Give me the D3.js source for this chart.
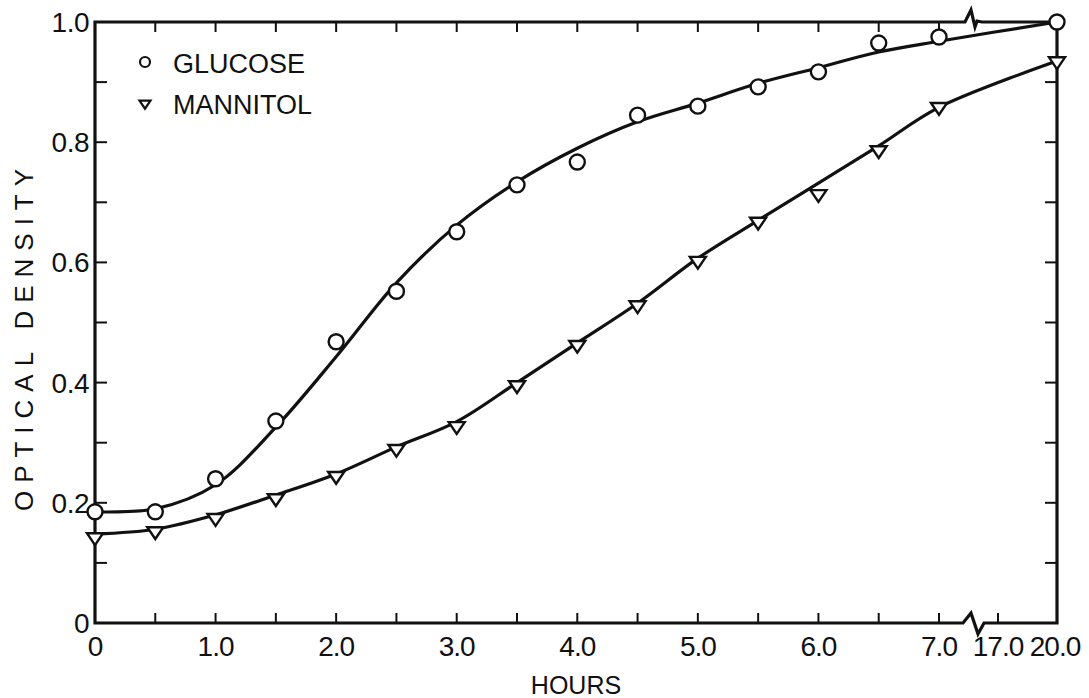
<!DOCTYPE html>
<html><head><meta charset="utf-8">
<script src="https://cdn.jsdelivr.net/npm/d3@7"></script>
<style>body{margin:0;background:#fff}svg{display:block}</style>
</head><body>
<svg id="c" width="1089" height="698"></svg>
<script>
// ---- data ----
const hours     = [0,0.5,1.0,1.5,2.0,2.5,3.0,3.5,4.0,4.5,5.0,5.5,6.0,6.5,7.0,20.0];
const glucose   = [0.185,0.185,0.24,0.336,0.468,0.552,0.651,0.729,0.767,0.845,0.860,0.892,0.917,0.965,0.975,1.0];
const mannitol  = [0.141,0.151,0.173,0.206,0.243,0.288,0.326,0.394,0.461,0.527,0.601,0.666,0.712,0.785,0.857,0.933];
// smooth fitted curves drawn through the points
const glucoseFit  = [0.185,0.19,0.23,0.326,0.443,0.566,0.662,0.734,0.79,0.834,0.865,0.898,0.924,0.95,0.968,1.0];
const mannitolFit = [0.148,0.156,0.18,0.213,0.248,0.293,0.335,0.4,0.466,0.532,0.607,0.67,0.732,0.794,0.858,0.935];
const xTickValues = [0.5,1.0,1.5,2.0,2.5,3.0,3.5,4.0,4.5,5.0,5.5,6.0,6.5,7.0,17.0];
const xLabelValues = [0,1,2,3,4,5,6,7,17,20];
const xLabels = ["0","1.0","2.0","3.0","4.0","5.0","6.0","7.0","17.0","20.0"];
const yTickValues = [0.1,0.2,0.3,0.4,0.5,0.6,0.7,0.8,0.9];
const yLabelValues = [0,0.2,0.4,0.6,0.8,1.0];
const yLabels = ["0","0.2","0.4","0.6","0.8","1.0"];
const seriesNames = ["GLUCOSE","MANNITOL"];

// ---- layout ----
const L=95, R=1057, T=22, B=623, breakX=973;
const ink="#111";
const font="'Liberation Sans', Arial, sans-serif";
const svg=d3.select("#c");
svg.append("rect").attr("width",1089).attr("height",698).attr("fill","#fff");

const x=d3.scaleLinear().domain([0,7,17,20]).range([L,939,998,R]);
const y=d3.scaleLinear().domain([0,1]).range([B,T]);

// curves
const line=d3.line().x(d=>x(d[0])).y(d=>y(d[1])).curve(d3.curveCatmullRom.alpha(0.5));
[glucoseFit,mannitolFit].forEach(arr=>{
  svg.append("path").attr("d",line(hours.map((h,i)=>[h,arr[i]])))
    .attr("fill","none").attr("stroke",ink).attr("stroke-width",3.2);
});

// frame with breaks
const g=svg.append("g").attr("stroke",ink).attr("fill","none").attr("stroke-width",3.2).attr("stroke-linejoin","miter");
g.append("path").attr("d",`M${L},${T} L${L},${B} L${breakX-10},${B} L${breakX-2},${B-10} L${breakX+5},${B+11} L${breakX+11},${B} L${R},${B} L${R},${T} L${breakX+9},${T} L${breakX+4},${T-1} L${breakX+2},${T+5} L${breakX-2},${T-12} L${breakX-8},${T} Z`);

// ticks
const tg=svg.append("g").attr("stroke",ink).attr("stroke-width",2);
xTickValues.forEach(v=>{
  tg.append("line").attr("x1",x(v)).attr("x2",x(v)).attr("y1",B).attr("y2",B-10);
  if(v<=7) tg.append("line").attr("x1",x(v)).attr("x2",x(v)).attr("y1",T).attr("y2",T+10);
});
yTickValues.forEach(v=>{
  tg.append("line").attr("x1",L).attr("x2",L+12).attr("y1",y(v)).attr("y2",y(v));
  tg.append("line").attr("x1",R).attr("x2",R-12).attr("y1",y(v)).attr("y2",y(v));
});

// tick labels
const lab=svg.append("g").attr("fill",ink).attr("font-family",font).attr("font-size",28);
xLabelValues.forEach((v,i)=>{
  lab.append("text").attr("x",x(v)+(v===20?-2:0)).attr("y",656).attr("text-anchor","middle")
    .attr("letter-spacing",-1).text(xLabels[i]);
});
yLabelValues.forEach((v,i)=>{
  lab.append("text").attr("x",89).attr("y",y(v)+10).attr("text-anchor","end")
    .attr("letter-spacing",-0.5).text(yLabels[i]);
});

// axis titles
svg.append("text").attr("x",576).attr("y",694).attr("text-anchor","middle")
  .attr("font-family",font).attr("font-size",25).attr("fill",ink).text("HOURS");
svg.append("text").attr("transform","translate(33,336) rotate(-90)").attr("text-anchor","middle")
  .attr("font-family",font).attr("font-size",26).attr("letter-spacing",8).attr("fill",ink).text("OPTICAL DENSITY");

// markers
const tri=s=>`M${-s},${-s*0.62} L${s},${-s*0.62} L0,${s*0.85} Z`;
svg.append("g").selectAll("circle").data(hours.map((h,i)=>[h,glucose[i]])).join("circle")
  .attr("cx",d=>x(d[0])).attr("cy",d=>y(d[1])).attr("r",7.5)
  .attr("fill","#fff").attr("stroke",ink).attr("stroke-width",2.4);
svg.append("g").selectAll("path").data(hours.map((h,i)=>[h,mannitol[i]])).join("path")
  .attr("transform",d=>`translate(${x(d[0])},${y(d[1])})`).attr("d",tri(8))
  .attr("fill","#fff").attr("stroke",ink).attr("stroke-width",2.4).attr("stroke-linejoin","miter");

// legend
const lg=svg.append("g");
lg.append("circle").attr("cx",145).attr("cy",62).attr("r",5).attr("fill","#fff").attr("stroke",ink).attr("stroke-width",2.2);
lg.append("path").attr("transform","translate(145,104)").attr("d",tri(5.5)).attr("fill","#fff").attr("stroke",ink).attr("stroke-width",2.2);
lg.append("text").attr("x",173).attr("y",73).attr("font-family",font).attr("font-size",27).attr("fill",ink).text(seriesNames[0]);
lg.append("text").attr("x",173).attr("y",114).attr("font-family",font).attr("font-size",27).attr("fill",ink).text(seriesNames[1]);
</script>
</body></html>
